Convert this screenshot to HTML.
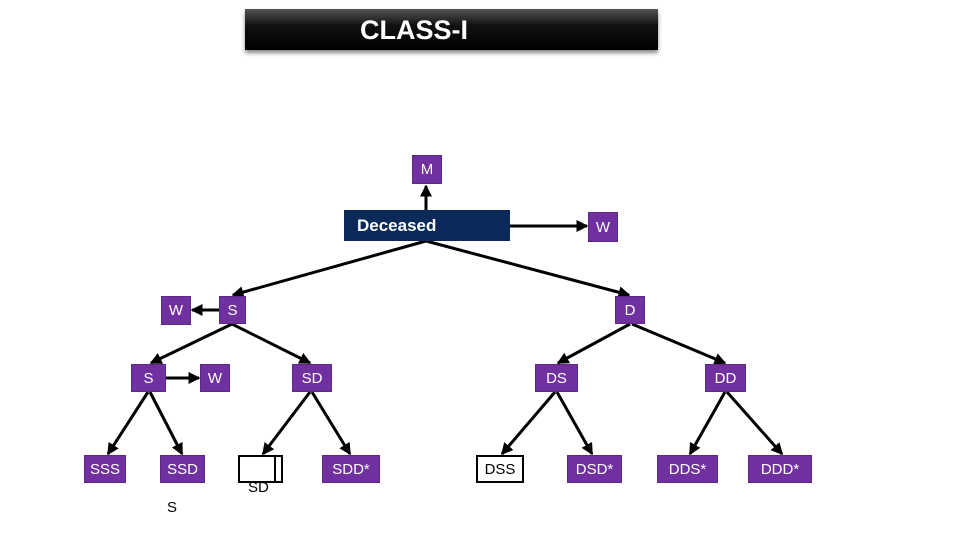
<!DOCTYPE html>
<html><head><style>
body{margin:0;width:960px;height:540px;background:#fff;position:relative;overflow:hidden;font-family:"Liberation Sans",sans-serif}
.b{position:absolute;background:#7030a0;border:1px solid #5a2a86;color:#fff;font-size:15px;display:flex;align-items:center;justify-content:center;box-sizing:border-box}
.t{position:absolute;font-size:15px;color:#000}
</style></head><body>
<div style="position:absolute;left:245px;top:9px;width:413px;height:41px;background:linear-gradient(#555,#111 40%,#000);box-shadow:0 3px 4px #888"></div>
<div style="position:absolute;left:360px;top:15px;color:#fff;font-weight:bold;font-size:27px">CLASS-I</div>
<svg style="position:absolute;left:0;top:0" width="960" height="540">
<defs><marker id="a" markerWidth="4" markerHeight="4" refX="3.5" refY="2" orient="auto" markerUnits="strokeWidth"><path d="M0,0 L4,2 L0,4z" fill="#000"/></marker></defs>
<g stroke="#000" stroke-width="3" marker-end="url(#a)" fill="none">
<line x1="426" y1="210" x2="426" y2="186"/>
<line x1="510" y1="226" x2="587" y2="226"/>
<line x1="426" y1="241" x2="233" y2="295"/>
<line x1="426" y1="241" x2="629" y2="295"/>
<line x1="219" y1="310" x2="192" y2="310"/>
<line x1="232" y1="324" x2="151" y2="363"/>
<line x1="232" y1="324" x2="310" y2="363"/>
<line x1="166" y1="378" x2="199" y2="378"/>
<line x1="148" y1="392" x2="108" y2="454"/>
<line x1="150" y1="392" x2="182" y2="454"/>
<line x1="310" y1="392" x2="263" y2="454"/>
<line x1="312" y1="392" x2="350" y2="454"/>
<line x1="630" y1="324" x2="558" y2="363"/>
<line x1="632" y1="324" x2="725" y2="363"/>
<line x1="555" y1="392" x2="502" y2="454"/>
<line x1="557" y1="392" x2="592" y2="454"/>
<line x1="725" y1="392" x2="690" y2="454"/>
<line x1="727" y1="392" x2="782" y2="454"/>
</g>
</svg>
<div class="b" style="left:412px;top:155px;width:30px;height:29px">M</div>
<div class="b" style="left:344px;top:210px;width:166px;height:31px;background:#0b2a5a;border-color:#0b2a5a;justify-content:flex-start;padding-left:12px;font-weight:bold;font-size:17px;align-items:flex-start;padding-top:5px;overflow:hidden">Deceased</div>
<div class="b" style="left:588px;top:212px;width:30px;height:30px">W</div>
<div class="b" style="left:161px;top:296px;width:30px;height:29px">W</div>
<div class="b" style="left:219px;top:296px;width:27px;height:28px">S</div>
<div class="b" style="left:615px;top:296px;width:30px;height:28px">D</div>
<div class="b" style="left:131px;top:364px;width:35px;height:28px">S</div>
<div class="b" style="left:200px;top:364px;width:30px;height:28px">W</div>
<div class="b" style="left:292px;top:364px;width:40px;height:28px">SD</div>
<div class="b" style="left:535px;top:364px;width:43px;height:28px">DS</div>
<div class="b" style="left:705px;top:364px;width:41px;height:28px">DD</div>
<div class="b" style="left:84px;top:455px;width:42px;height:28px">SSS</div>
<div class="b" style="left:160px;top:455px;width:45px;height:28px">SSD</div>
<div style="position:absolute;left:238px;top:455px;width:45px;height:28px;border:2px solid #000;box-sizing:border-box"></div>
<div style="position:absolute;left:274px;top:455px;width:2px;height:28px;background:#000"></div>
<div class="b" style="left:322px;top:455px;width:58px;height:28px">SDD*</div>
<div class="b" style="left:476px;top:455px;width:48px;height:28px;background:#fff;color:#000;border:2px solid #000">DSS</div>
<div class="b" style="left:567px;top:455px;width:55px;height:28px">DSD*</div>
<div class="b" style="left:657px;top:455px;width:61px;height:28px">DDS*</div>
<div class="b" style="left:748px;top:455px;width:64px;height:28px">DDD*</div>
<div class="t" style="left:248px;top:479px">SD</div>
<div class="t" style="left:167px;top:499px">S</div>
</body></html>
